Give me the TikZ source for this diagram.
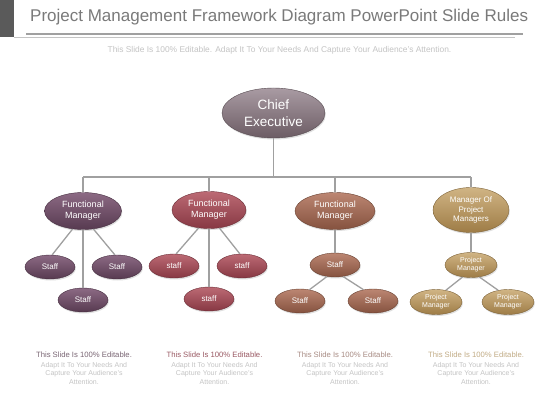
\documentclass[tikz,border=0pt]{standalone}
\usepackage{fontspec}
\setmainfont{Liberation Sans}
\usetikzlibrary{shapes.geometric,shadows}
\definecolor{titlegray}{HTML}{7A7A7A}
\definecolor{subgray}{HTML}{C4C4C4}
\definecolor{linegray}{HTML}{A0A0A0}
\definecolor{bargray}{HTML}{5A5A5A}
\definecolor{chieftop}{HTML}{A99BA3}
\definecolor{chiefbot}{HTML}{6C5C64}
\definecolor{purtop}{HTML}{8C6A84}
\definecolor{purbot}{HTML}{573A50}
\definecolor{redtop}{HTML}{BC6A74}
\definecolor{redbot}{HTML}{873843}
\definecolor{brntop}{HTML}{BC8672}
\definecolor{brnbot}{HTML}{85523F}
\definecolor{tantop}{HTML}{D0B484}
\definecolor{tanbot}{HTML}{9E7C46}
\definecolor{hdpur}{HTML}{7A6674}
\definecolor{hdred}{HTML}{9A5A64}
\definecolor{hdbrn}{HTML}{A88C84}
\definecolor{hdtan}{HTML}{C2AC86}
\tikzset{
  orgnode/.style={ellipse, inner sep=0pt, text=white, align=center,
    drop shadow={shadow xshift=0.8pt, shadow yshift=-1.5pt, opacity=0.25}},
  chiefnode/.style={orgnode, top color=chieftop, bottom color=chiefbot, draw=chiefbot!80!black,
    minimum width=103pt, minimum height=50pt, font=\fontsize{13.5}{16.5}\selectfont},
  purnode/.style={orgnode, top color=purtop, bottom color=purbot, draw=purbot!80!black},
  rednode/.style={orgnode, top color=redtop, bottom color=redbot, draw=redbot!80!black},
  brnnode/.style={orgnode, top color=brntop, bottom color=brnbot, draw=brnbot!80!black},
  tannode/.style={orgnode, top color=tantop, bottom color=tanbot, draw=tanbot!80!black},
  mgrsize/.style={minimum width=77pt, minimum height=37pt, font=\fontsize{9}{11}\selectfont},
  staffsize/.style={minimum width=50pt, minimum height=24pt, font=\fontsize{8}{9.5}\selectfont},
  pmsize/.style={minimum width=52pt, minimum height=25pt, font=\fontsize{7}{8}\selectfont},
  conn/.style={draw=linegray, line width=1.3pt},
  hdtext/.style={font=\fontsize{7.7}{8.7}\selectfont, anchor=base},
  bodytext/.style={text=subgray, align=center, font=\fontsize{7}{8.7}\selectfont, anchor=north},
}
\begin{document}
\begin{tikzpicture}[x=1pt,y=-1pt]
\useasboundingbox (0,0) rectangle (560,420);
\fill[white] (0,0) rectangle (560,420);
% header
\fill[bargray] (0,0) rectangle (14,37);
\draw[linegray, line width=2pt] (26,34) -- (523,34);
\draw[subgray, line width=0.6pt] (14,37.8) -- (515,37.8);
\node[anchor=base west, text=titlegray, inner sep=0pt, font=\fontsize{17}{20}\selectfont] (title) at (30,22) {Project Management Framework Diagram PowerPoint Slide Rules};
\node[text=subgray, inner sep=0pt, font=\fontsize{8.4}{10}\selectfont] (sub) at (279.5,50) {This Slide Is 100\% Editable. Adapt It To Your Needs And Capture Your Audience's Attention.};
% chief
\node[chiefnode] (chief) at (273.5,113) {Chief\\Executive};
\coordinate (bus) at (273.5,177);
\coordinate (busl) at (83,177);
\coordinate (busr) at (471,177);
% managers
\node[purnode, mgrsize] (fm1) at (83,211) {Functional\\Manager};
\node[rednode, mgrsize, minimum width=74pt] (fm2) at (209,210) {Functional\\Manager};
\node[brnnode, mgrsize, minimum width=80pt] (fm3) at (335,211) {Functional\\Manager};
\node[tannode, minimum width=76pt, minimum height=45pt, font=\fontsize{8}{9.5}\selectfont] (mpm) at (471,210) {Manager Of\\Project\\Managers};
% staff 1
\node[purnode, staffsize] (s1l) at (50,267) {Staff};
\node[purnode, staffsize] (s1r) at (117,267) {Staff};
\node[purnode, staffsize] (s1b) at (83,300) {Staff};
% staff 2
\node[rednode, staffsize] (s2l) at (174,266) {staff};
\node[rednode, staffsize] (s2r) at (242,266) {staff};
\node[rednode, staffsize] (s2b) at (209,299) {staff};
% staff 3
\node[brnnode, staffsize] (s3) at (335,265) {Staff};
\node[brnnode, staffsize] (s3l) at (300,301) {Staff};
\node[brnnode, staffsize] (s3r) at (373,301) {Staff};
% project managers
\node[tannode, pmsize] (pm) at (471,265) {Project\\Manager};
\node[tannode, pmsize] (pml) at (436,302) {Project\\Manager};
\node[tannode, pmsize] (pmr) at (508,302) {Project\\Manager};
% connectors
\draw[conn] (chief.south) -- (bus);
\draw[conn] (busl) -- (busr);
\draw[conn] (busl) -- (fm1.north);
\draw[conn] (209,177) -- (fm2.north);
\draw[conn] (335,177) -- (fm3.north);
\draw[conn] (busr) -- (mpm.north);
\draw[conn] (fm1.240) -- (s1l.80);
\draw[conn] (fm1.300) -- (s1r.100);
\draw[conn] (fm1.south) -- (s1b.north);
\draw[conn] (fm2.240) -- (s2l.80);
\draw[conn] (fm2.300) -- (s2r.100);
\draw[conn] (fm2.south) -- (s2b.north);
\draw[conn] (fm3.south) -- (s3.north);
\draw[conn] (s3.235) -- (s3l.50);
\draw[conn] (s3.305) -- (s3r.130);
\draw[conn] (mpm.south) -- (pm.north);
\draw[conn] (pm.235) -- (pml.50);
\draw[conn] (pm.305) -- (pmr.130);
% bottom texts
\node[hdtext, text=hdpur] (h1) at (84,357) {This Slide Is 100\% Editable.};
\node[hdtext, text=hdred] (h2) at (214.5,357) {This Slide Is 100\% Editable.};
\node[hdtext, text=hdbrn] (h3) at (345,357) {This Slide Is 100\% Editable.};
\node[hdtext, text=hdtan] (h4) at (476,357) {This Slide Is 100\% Editable.};
\node[bodytext] (b1) at (84,358.5) {Adapt It To Your Needs And\\Capture Your Audience's\\Attention.};
\node[bodytext] (b2) at (214.5,358.5) {Adapt It To Your Needs And\\Capture Your Audience's\\Attention.};
\node[bodytext] (b3) at (345,358.5) {Adapt It To Your Needs And\\Capture Your Audience's\\Attention.};
\node[bodytext] (b4) at (476,358.5) {Adapt It To Your Needs And\\Capture Your Audience's\\Attention.};
\end{tikzpicture}
\end{document}
